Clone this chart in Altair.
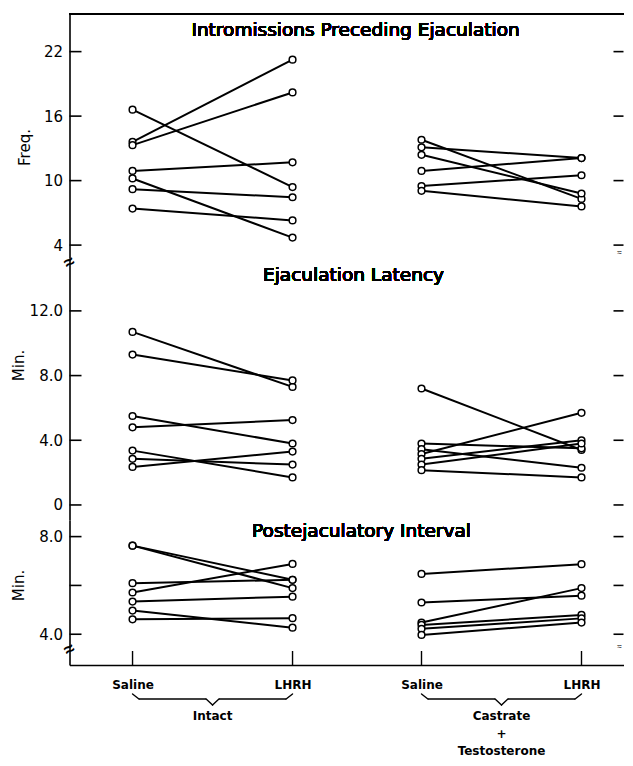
import altair as alt
import pandas as pd

# ---------------- data ----------------
groups = ["Intact", "Castrate"]
treatments = ["Saline", "LHRH"]

# Intromissions preceding ejaculation (Freq.)
intro_intact_saline = [16.6, 13.6, 13.3, 10.9, 10.2, 9.2, 7.4]
intro_intact_lhrh = [9.4, 21.25, 18.2, 11.7, 4.7, 8.45, 6.3]
intro_castrate_saline = [13.8, 13.1, 12.4, 10.9, 9.5, 9.05]
intro_castrate_lhrh = [8.3, 12.1, 8.8, 12.1, 10.5, 7.6]

# Ejaculation latency (Min.)
lat_intact_saline = [10.7, 9.3, 5.5, 4.8, 3.36, 2.85, 2.35]
lat_intact_lhrh = [7.3, 7.7, 3.8, 5.25, 1.7, 2.5, 3.3]
lat_castrate_saline = [7.2, 3.8, 3.45, 3.15, 2.85, 2.5, 2.15]
lat_castrate_lhrh = [3.4, 3.5, 2.3, 5.7, 4.0, 3.8, 1.7]

# Postejaculatory interval (Min.)
pei_intact_saline = [7.63, 7.63, 6.09, 5.71, 5.34, 4.97, 4.61]
pei_intact_lhrh = [6.23, 5.89, 6.23, 6.88, 5.54, 4.27, 4.66]
pei_castrate_saline = [6.47, 5.30, 4.48, 4.38, 4.22, 3.97]
pei_castrate_lhrh = [6.87, 5.58, 5.89, 4.79, 4.65, 4.48]

intro_ticks = [4, 10, 16, 22]
lat_ticks = [0, 4, 8, 12]
pei_ticks = [4, 6, 8]

panel_titles = ["Intromissions Preceding Ejaculation", "Ejaculation Latency",
                "Postejaculatory Interval"]
axis_titles = ["Freq.", "Min.", "Min."]
group_labels = [["Intact"], ["Castrate", "+", "Testosterone"]]

# ---------------- layout ----------------
W = 554
H1, H2, H3 = 244, 262, 145
SLOT = {("Intact", "Saline"): 0.0, ("Intact", "LHRH"): 1.0,
        ("Castrate", "Saline"): 1.806, ("Castrate", "LHRH"): 2.806}
XDOM = [-0.394, -0.394 + W / 160]
FONT = "DejaVu Sans"


def long_df(is_, il, cs, cl):
    rows = []
    for g, (s, l) in zip(groups, [(is_, il), (cs, cl)]):
        for i, (a, b) in enumerate(zip(s, l)):
            rows.append({"animal": f"{g}{i}", "slot": SLOT[(g, "Saline")], "value": a})
            rows.append({"animal": f"{g}{i}", "slot": SLOT[(g, "LHRH")], "value": b})
    return pd.DataFrame(rows)


def panel(df, ydom, height, ticks, label_expr, title, title_pos, ax_title, tx, ty,
          show_x=False, top_frame=False):
    xs = alt.Scale(domain=XDOM, nice=False, zero=False)
    ys = alt.Scale(domain=ydom, nice=False, zero=False)
    if show_x:
        xaxis = alt.Axis(values=[SLOT[k] for k in SLOT], ticks=False, tickSize=0,
                         grid=False, labelFlush=False, labelOverlap=False,
                         labelExpr="(datum.value < 0.5 || (datum.value > 1.5 && datum.value < 2.5)) ? 'Saline' : 'LHRH'",
                         labelFont=FONT, labelFontWeight="bold", labelFontSize=12,
                         labelPadding=14, domainWidth=1.6, domainColor="black",
                         labelColor="black", title=None)
    else:
        xaxis = None
    yaxis = alt.Axis(values=ticks, ticks=False, tickSize=0, grid=False,
                     labelExpr=label_expr, labelFont=FONT, labelFontSize=15,
                     labelPadding=7, labelColor="black", domainColor="black",
                     domainWidth=1.6, title=ax_title, titleFont=FONT,
                     titleFontSize=15, titleFontWeight="normal", titleColor="black",
                     titleAngle=270, titleX=tx, titleY=ty, titleAlign="center",
                     titleBaseline="middle")
    X = alt.X("slot:Q", scale=xs, axis=xaxis)
    Y = alt.Y("value:Q", scale=ys, axis=yaxis)

    base = alt.Chart(df)
    lines = base.mark_line(color="black", strokeWidth=2).encode(x=X, y=Y, detail="animal:N")
    pts = base.mark_point(shape="circle", fill="white", stroke="black", strokeWidth=1.5,
                          size=45, opacity=1, fillOpacity=1).encode(x=X, y=Y)
    tdf = pd.DataFrame({"value": ticks})
    lticks = alt.Chart(tdf).mark_rule(color="black", strokeWidth=1.6).encode(
        y=alt.Y("value:Q", scale=ys, axis=yaxis), x=alt.value(0), x2=alt.value(12))
    rticks = alt.Chart(tdf).mark_rule(color="black", strokeWidth=1.6).encode(
        y=alt.Y("value:Q", scale=ys, axis=yaxis), x=alt.value(W - 10), x2=alt.value(W))
    ttl = alt.Chart(df).mark_text(font=FONT, fontSize=18.5, color="black").encode(
        x=alt.datum(title_pos[0], scale=xs), y=alt.datum(title_pos[1], scale=ys),
        text=alt.value(title))
    layers = [lticks, rticks, lines, pts, ttl]
    if top_frame:
        layers.append(alt.Chart(df).mark_rule(color="black", strokeWidth=1.6).encode(
            x=alt.value(0), x2=alt.value(W), y=alt.value(0)))
    return alt.layer(*layers).properties(width=W, height=height)


p1 = panel(long_df(intro_intact_saline, intro_intact_lhrh, intro_castrate_saline, intro_castrate_lhrh),
           [2.8, 25.5], H1, intro_ticks, "format(datum.value, 'd')",
           panel_titles[0], (1.394, 24.05), axis_titles[0], -45, 133, top_frame=True)
p2 = panel(long_df(lat_intact_saline, lat_intact_lhrh, lat_castrate_saline, lat_castrate_lhrh),
           [-0.93, 15.27], H2, lat_ticks,
           "datum.value == 0 ? '0' : format(datum.value, '.1f')",
           panel_titles[1], (1.381, 14.22), axis_titles[1], -51, 107)
p3 = panel(long_df(pei_intact_saline, pei_intact_lhrh, pei_castrate_saline, pei_castrate_lhrh),
           [2.74, 8.68], H3, pei_ticks,
           "datum.value == 6 ? '' : format(datum.value, '.1f')",
           panel_titles[2], (1.431, 8.23), axis_titles[2], -51, 65, show_x=True)

# axis-break marks
brk = pd.DataFrame({"k": [0]})
p2 = alt.layer(
    p2,
    alt.Chart(brk).mark_text(text="≈", fontSize=18, fontWeight="bold", angle=330, color="black").encode(
        x=alt.value(0), y=alt.value(5)),
    alt.Chart(brk).mark_text(text="≈", fontSize=8, color="black").encode(
        x=alt.value(W - 4), y=alt.value(-5)),
)

# x-axis inward ticks, braces and group labels for the bottom panel
xs = alt.Scale(domain=XDOM, nice=False, zero=False)
slot_df = pd.DataFrame({"slot": list(SLOT.values())})
bticks = alt.Chart(slot_df).mark_rule(color="black", strokeWidth=1.4).encode(
    x=alt.X("slot:Q", scale=xs), y=alt.value(H3 - 14), y2=alt.value(H3))

brace_rows_h, brace_rows_end, brace_rows_mid = [], [], []
for g in groups:
    s0, s1 = SLOT[(g, "Saline")], SLOT[(g, "LHRH")]
    m = (s0 + s1) / 2
    d = 0.04
    brace_rows_h += [{"a": s0 + d, "b": m - d}, {"a": m + d, "b": s1 - d}]
    brace_rows_end += [{"a": s0, "b": s0 + d}, {"a": s1, "b": s1 - d}]
    brace_rows_mid += [{"a": m - d, "b": m}, {"a": m + d, "b": m}]
bh = alt.Chart(pd.DataFrame(brace_rows_h)).mark_rule(color="black", strokeWidth=1.4).encode(
    x=alt.X("a:Q", scale=xs), x2="b:Q", y=alt.value(H3 + 34))
be = alt.Chart(pd.DataFrame(brace_rows_end)).mark_rule(color="black", strokeWidth=1.4, strokeCap="round").encode(
    x=alt.X("a:Q", scale=xs), x2="b:Q", y=alt.value(H3 + 29), y2=alt.value(H3 + 34))
bm = alt.Chart(pd.DataFrame(brace_rows_mid)).mark_rule(color="black", strokeWidth=1.4, strokeCap="round").encode(
    x=alt.X("a:Q", scale=xs), x2="b:Q", y=alt.value(H3 + 34), y2=alt.value(H3 + 40))

glab = pd.DataFrame({"slot": [(SLOT[(g, "Saline")] + SLOT[(g, "LHRH")]) / 2 for g in groups],
                     "label": group_labels})
gtext = alt.Chart(glab).mark_text(font=FONT, fontSize=12, fontWeight="bold", baseline="top",
                                  lineHeight=17.5, color="black").encode(
    x=alt.X("slot:Q", scale=xs), y=alt.value(H3 + 46), text="label")

p3 = alt.layer(
    p3, bticks, bh, be, bm, gtext,
    alt.Chart(brk).mark_text(text="≈", fontSize=18, fontWeight="bold", angle=330, color="black").encode(
        x=alt.value(0), y=alt.value(130)),
    alt.Chart(brk).mark_text(text="≈", fontSize=8, color="black").encode(
        x=alt.value(W - 4), y=alt.value(127)),
)

chart = alt.vconcat(p1, p2, p3, spacing=0, bounds="flush").resolve_scale(
    y="independent", x="independent").properties(
    padding={"left": 3.5, "top": 5, "right": 0, "bottom": 0},
    background="white").configure_view(stroke=None)

chart.save("out.html", embed_options={"renderer": "svg", "actions": False})
